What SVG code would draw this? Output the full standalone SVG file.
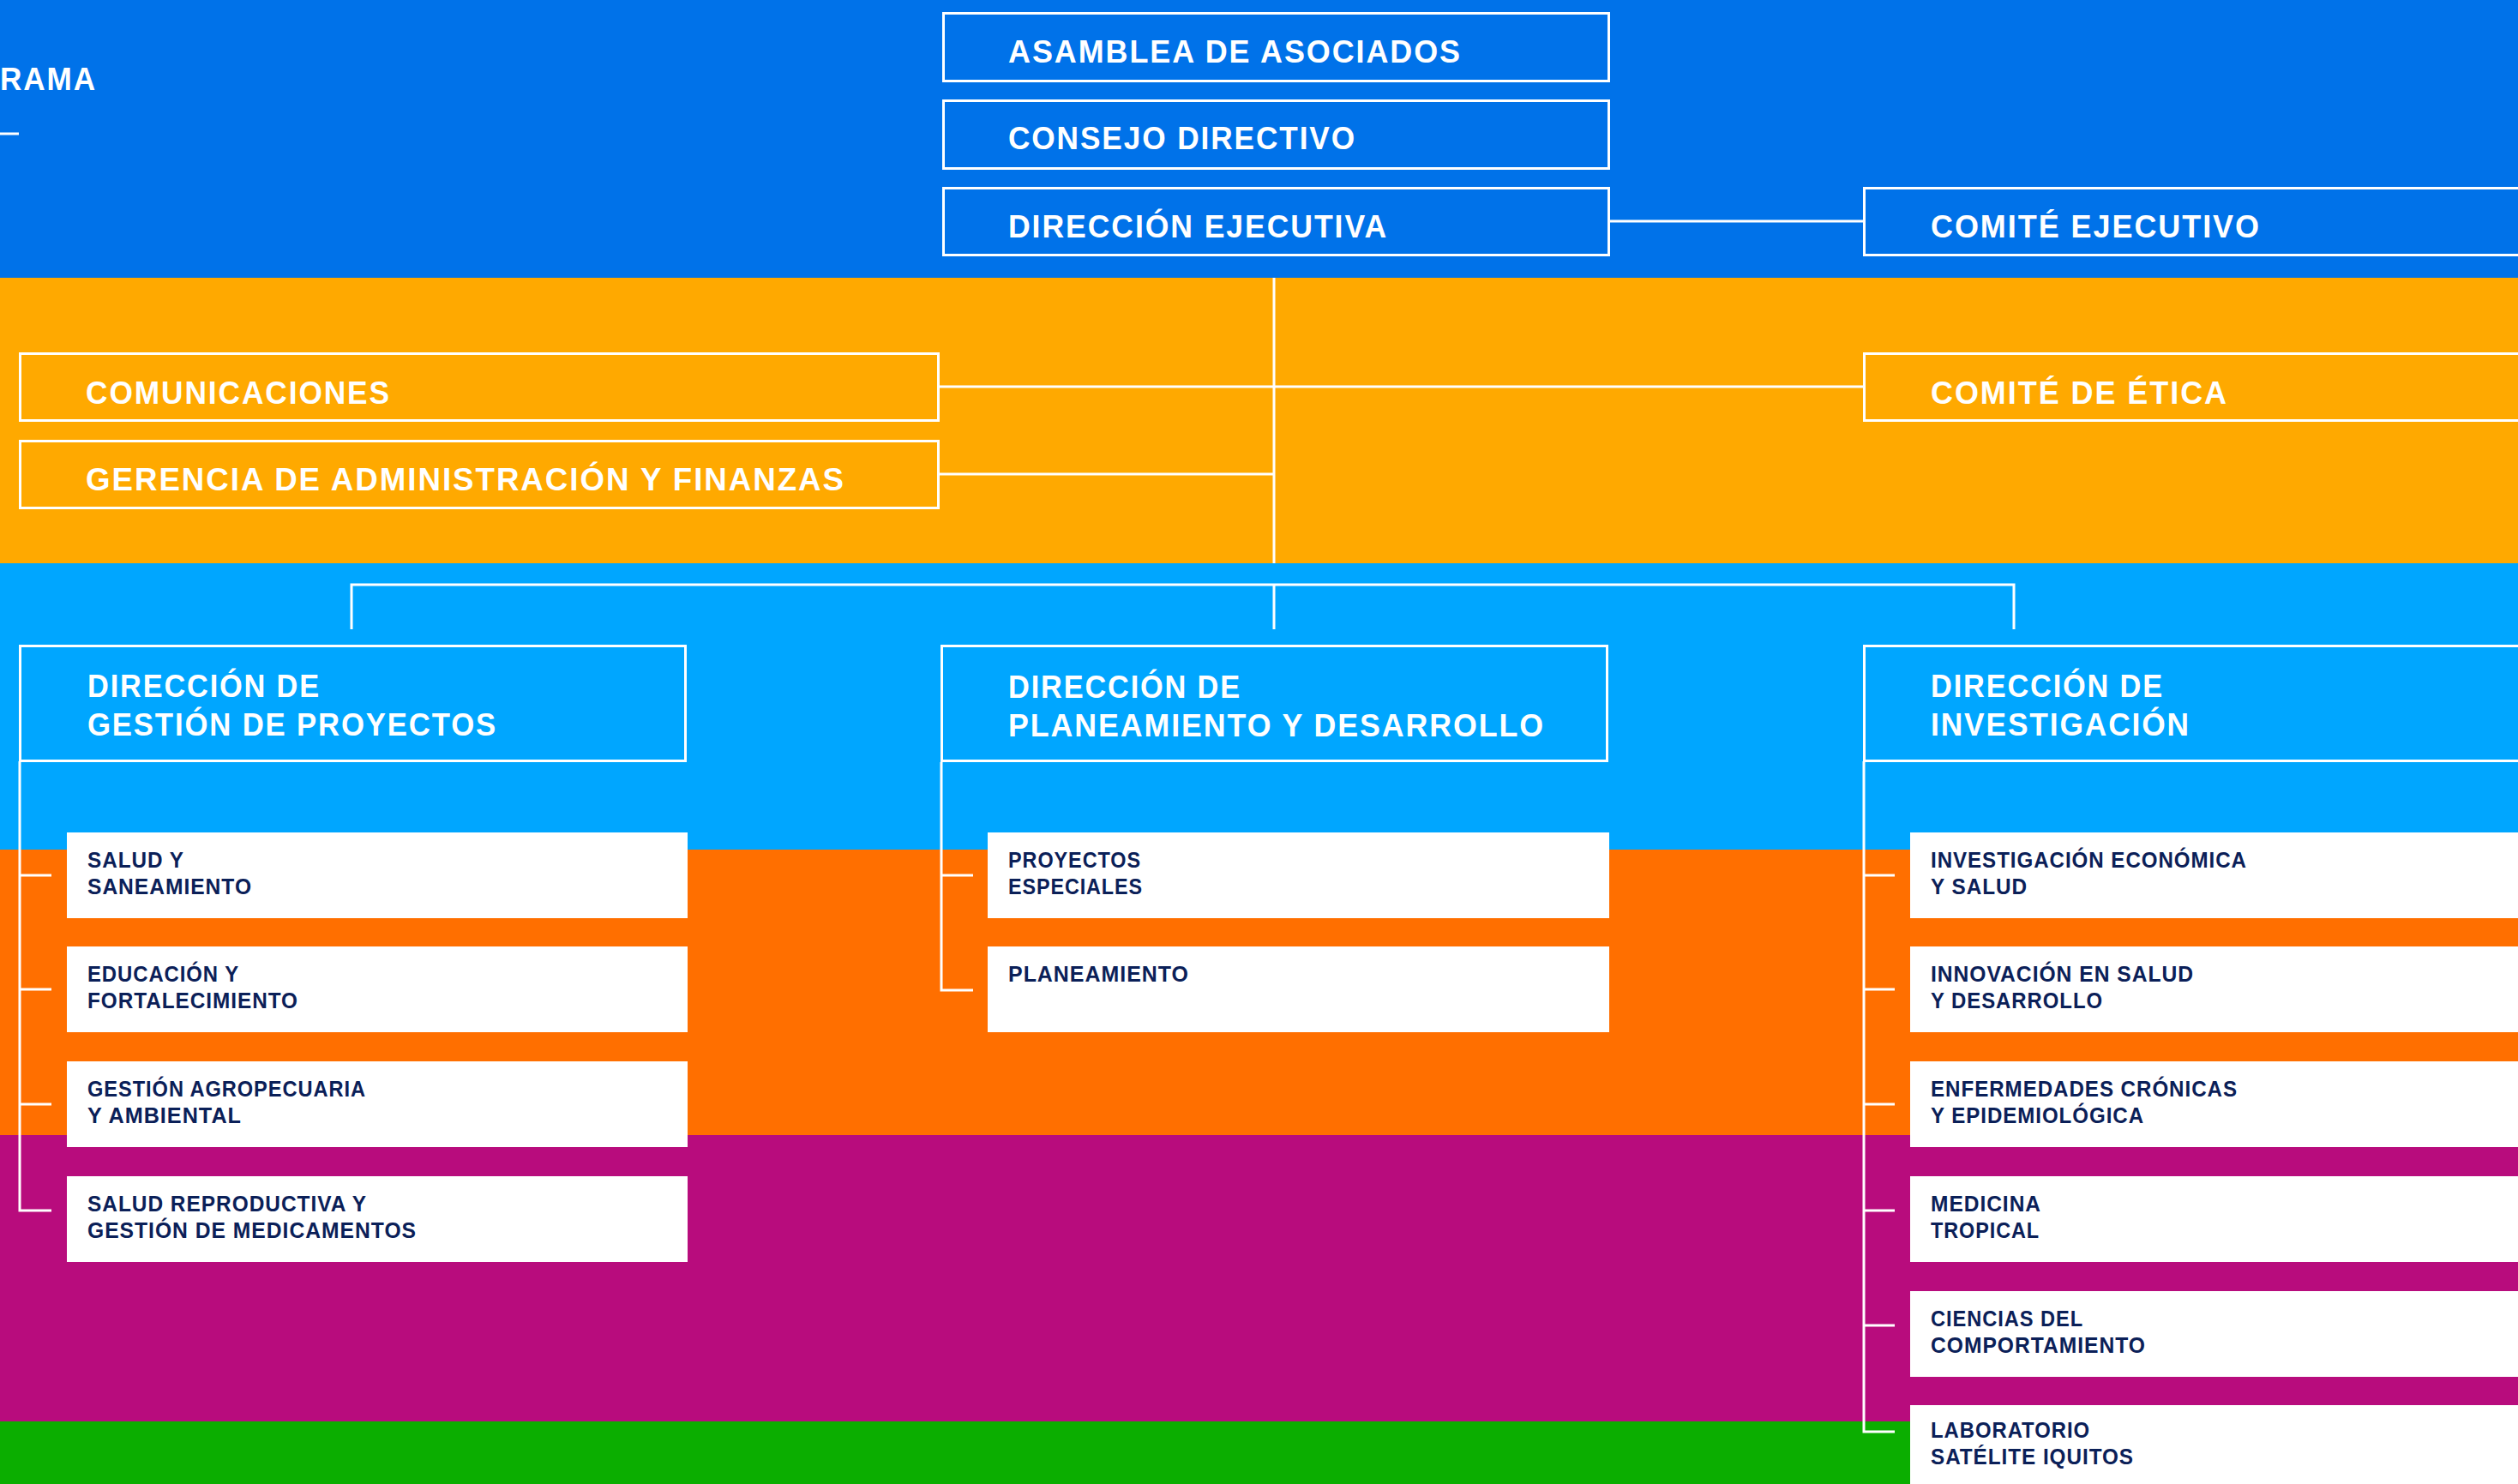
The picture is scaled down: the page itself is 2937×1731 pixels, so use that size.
<svg xmlns="http://www.w3.org/2000/svg" width="2937" height="1731" viewBox="0 0 2937 1731">
<style>
.box{fill:none;stroke:#fff;stroke-width:3}
.wbox{fill:#fff}
.ln{fill:none;stroke:#fff;stroke-width:3}
.t1{font-family:"Liberation Sans",Arial,sans-serif;font-weight:bold;font-size:37px;fill:#fff;letter-spacing:2px}
.t2{font-family:"Liberation Sans",Arial,sans-serif;font-weight:bold;font-size:25px;fill:#0B2058;letter-spacing:1px}
</style>
<g id="bands">
<rect x="0" y="0" width="2937" height="324" fill="#0072E9"/>
<rect x="0" y="324" width="2937" height="333" fill="#FFA900"/>
<rect x="0" y="657" width="2937" height="334" fill="#00A6FF"/>
<rect x="0" y="991" width="2937" height="333" fill="#FF6F00"/>
<rect x="0" y="1324" width="2937" height="334" fill="#B80C7D"/>
<rect x="0" y="1658" width="2937" height="73" fill="#0BAE00"/>
</g>
<g id="title">
<text class="t1" x="0" y="105" textLength="113" lengthAdjust="spacingAndGlyphs">RAMA</text>
<line class="ln" x1="0" y1="156" x2="22" y2="156"/>
</g>
<g id="connectors">
<line class="ln" x1="1878" y1="258" x2="2173" y2="258"/>
<line class="ln" x1="1096" y1="451" x2="2173" y2="451"/>
<line class="ln" x1="1096" y1="553" x2="1486" y2="553"/>
<line class="ln" x1="1486" y1="324" x2="1486" y2="657"/>
<polyline class="ln" points="410,734 410,682 2349,682 2349,734"/>
<line class="ln" x1="1486" y1="682" x2="1486" y2="734"/>
<polyline class="ln" points="23,888 23,1412 60,1412"/>
<line class="ln" x1="23" y1="1021" x2="60" y2="1021"/>
<line class="ln" x1="23" y1="1154" x2="60" y2="1154"/>
<line class="ln" x1="23" y1="1288" x2="60" y2="1288"/>
<polyline class="ln" points="1098,889 1098,1155 1135,1155"/>
<line class="ln" x1="1098" y1="1021" x2="1135" y2="1021"/>
<polyline class="ln" points="2174,888 2174,1670 2210,1670"/>
<line class="ln" x1="2174" y1="1021" x2="2210" y2="1021"/>
<line class="ln" x1="2174" y1="1154" x2="2210" y2="1154"/>
<line class="ln" x1="2174" y1="1288" x2="2210" y2="1288"/>
<line class="ln" x1="2174" y1="1412" x2="2210" y2="1412"/>
<line class="ln" x1="2174" y1="1546" x2="2210" y2="1546"/>
</g>
<g id="asamblea"><rect class="box" x="1100.5" y="15.5" width="776" height="79"/><text class="t1" x="1176" y="73" textLength="529" lengthAdjust="spacingAndGlyphs">ASAMBLEA DE ASOCIADOS</text></g>
<g id="consejo"><rect class="box" x="1100.5" y="117.5" width="776" height="79"/><text class="t1" x="1176" y="174" textLength="406" lengthAdjust="spacingAndGlyphs">CONSEJO DIRECTIVO</text></g>
<g id="direccion-ejecutiva"><rect class="box" x="1100.5" y="219.5" width="776" height="78"/><text class="t1" x="1176" y="277" textLength="443" lengthAdjust="spacingAndGlyphs">DIRECCIÓN EJECUTIVA</text></g>
<g id="comite-ejecutivo"><rect class="box" x="2174.5" y="219.5" width="800" height="78"/><text class="t1" x="2252" y="277" textLength="385" lengthAdjust="spacingAndGlyphs">COMITÉ EJECUTIVO</text></g>
<g id="comunicaciones"><rect class="box" x="23.5" y="412.5" width="1071" height="78"/><text class="t1" x="100" y="471" textLength="356" lengthAdjust="spacingAndGlyphs">COMUNICACIONES</text></g>
<g id="comite-etica"><rect class="box" x="2174.5" y="412.5" width="800" height="78"/><text class="t1" x="2252" y="471" textLength="347" lengthAdjust="spacingAndGlyphs">COMITÉ DE ÉTICA</text></g>
<g id="gerencia"><rect class="box" x="23.5" y="514.5" width="1071" height="78"/><text class="t1" x="100" y="572" textLength="886" lengthAdjust="spacingAndGlyphs">GERENCIA DE ADMINISTRACIÓN Y FINANZAS</text></g>
<g id="dir-gestion"><rect class="box" x="23.5" y="753.5" width="776" height="134"/><text class="t1" x="102" y="813" textLength="272" lengthAdjust="spacingAndGlyphs">DIRECCIÓN DE</text><text class="t1" x="102" y="858" textLength="478" lengthAdjust="spacingAndGlyphs">GESTIÓN DE PROYECTOS</text></g>
<g id="dir-planeamiento"><rect class="box" x="1098.5" y="753.5" width="776" height="134"/><text class="t1" x="1176" y="814" textLength="272" lengthAdjust="spacingAndGlyphs">DIRECCIÓN DE</text><text class="t1" x="1176" y="859" textLength="626" lengthAdjust="spacingAndGlyphs">PLANEAMIENTO Y DESARROLLO</text></g>
<g id="dir-investigacion"><rect class="box" x="2174.5" y="753.5" width="800" height="134"/><text class="t1" x="2252" y="813" textLength="272" lengthAdjust="spacingAndGlyphs">DIRECCIÓN DE</text><text class="t1" x="2252" y="858" textLength="303" lengthAdjust="spacingAndGlyphs">INVESTIGACIÓN</text></g>
<g id="salud-saneamiento"><rect class="wbox" x="78" y="971" width="724" height="100"/><text class="t2" x="102" y="1012" textLength="113" lengthAdjust="spacingAndGlyphs">SALUD Y</text><text class="t2" x="102" y="1043" textLength="192" lengthAdjust="spacingAndGlyphs">SANEAMIENTO</text></g>
<g id="educacion"><rect class="wbox" x="78" y="1104" width="724" height="100"/><text class="t2" x="102" y="1145" textLength="177" lengthAdjust="spacingAndGlyphs">EDUCACIÓN Y</text><text class="t2" x="102" y="1176" textLength="246" lengthAdjust="spacingAndGlyphs">FORTALECIMIENTO</text></g>
<g id="agropecuaria"><rect class="wbox" x="78" y="1238" width="724" height="100"/><text class="t2" x="102" y="1279" textLength="325" lengthAdjust="spacingAndGlyphs">GESTIÓN AGROPECUARIA</text><text class="t2" x="102" y="1310" textLength="180" lengthAdjust="spacingAndGlyphs">Y AMBIENTAL</text></g>
<g id="salud-reproductiva"><rect class="wbox" x="78" y="1372" width="724" height="100"/><text class="t2" x="102" y="1413" textLength="326" lengthAdjust="spacingAndGlyphs">SALUD REPRODUCTIVA Y</text><text class="t2" x="102" y="1444" textLength="384" lengthAdjust="spacingAndGlyphs">GESTIÓN DE MEDICAMENTOS</text></g>
<g id="proyectos-especiales"><rect class="wbox" x="1152" y="971" width="725" height="100"/><text class="t2" x="1176" y="1012" textLength="155" lengthAdjust="spacingAndGlyphs">PROYECTOS</text><text class="t2" x="1176" y="1043" textLength="157" lengthAdjust="spacingAndGlyphs">ESPECIALES</text></g>
<g id="planeamiento"><rect class="wbox" x="1152" y="1104" width="725" height="100"/><text class="t2" x="1176" y="1145" textLength="211" lengthAdjust="spacingAndGlyphs">PLANEAMIENTO</text></g>
<g id="inv-economica"><rect class="wbox" x="2228" y="971" width="720" height="100"/><text class="t2" x="2252" y="1012" textLength="369" lengthAdjust="spacingAndGlyphs">INVESTIGACIÓN ECONÓMICA</text><text class="t2" x="2252" y="1043" textLength="113" lengthAdjust="spacingAndGlyphs">Y SALUD</text></g>
<g id="innovacion"><rect class="wbox" x="2228" y="1104" width="720" height="100"/><text class="t2" x="2252" y="1145" textLength="307" lengthAdjust="spacingAndGlyphs">INNOVACIÓN EN SALUD</text><text class="t2" x="2252" y="1176" textLength="201" lengthAdjust="spacingAndGlyphs">Y DESARROLLO</text></g>
<g id="enfermedades"><rect class="wbox" x="2228" y="1238" width="720" height="100"/><text class="t2" x="2252" y="1279" textLength="358" lengthAdjust="spacingAndGlyphs">ENFERMEDADES CRÓNICAS</text><text class="t2" x="2252" y="1310" textLength="249" lengthAdjust="spacingAndGlyphs">Y EPIDEMIOLÓGICA</text></g>
<g id="medicina-tropical"><rect class="wbox" x="2228" y="1372" width="720" height="100"/><text class="t2" x="2252" y="1413" textLength="129" lengthAdjust="spacingAndGlyphs">MEDICINA</text><text class="t2" x="2252" y="1444" textLength="127" lengthAdjust="spacingAndGlyphs">TROPICAL</text></g>
<g id="ciencias"><rect class="wbox" x="2228" y="1506" width="720" height="100"/><text class="t2" x="2252" y="1547" textLength="178" lengthAdjust="spacingAndGlyphs">CIENCIAS DEL</text><text class="t2" x="2252" y="1578" textLength="251" lengthAdjust="spacingAndGlyphs">COMPORTAMIENTO</text></g>
<g id="laboratorio"><rect class="wbox" x="2228" y="1639" width="720" height="100"/><text class="t2" x="2252" y="1677" textLength="186" lengthAdjust="spacingAndGlyphs">LABORATORIO</text><text class="t2" x="2252" y="1708" textLength="237" lengthAdjust="spacingAndGlyphs">SATÉLITE IQUITOS</text></g>
</svg>
